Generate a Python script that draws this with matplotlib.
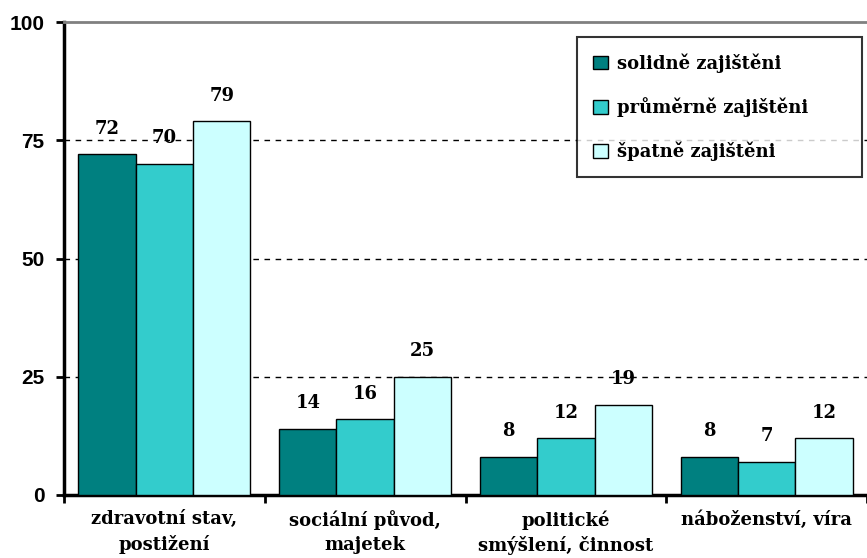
import matplotlib
matplotlib.use("Agg")
import matplotlib.pyplot as plt
import numpy as np

categories = ["zdravotní stav,\npostižení", "sociální původ,\nmajetek", "politické\nsmýšlení, činnost", "náboženství, víra"]
series_names = ["solidně zajištěni", "průměrně zajištěni", "špatně zajištěni"]
solidne = [72, 14, 8, 8]
prumerne = [70, 16, 12, 7]
spatne = [79, 25, 19, 12]
colors = ["#008080", "#33CCCC", "#CCFFFF"]
yticks = [0, 25, 50, 75, 100]

fig = plt.figure(figsize=(8.67, 5.58), dpi=100)
ax = fig.add_axes([64/867, 63/558, (867-64)/867, (495-22)/558])

x = np.arange(len(categories))
spacing = 204.0
w = 58.3/spacing
series = [solidne, prumerne, spatne]
for i, (vals, c, name) in enumerate(zip(series, colors, series_names)):
    pos = x + (i - 1) * w
    bars = ax.bar(pos, vals, width=w, color=c, edgecolor="black", linewidth=1, label=name, zorder=3)
    for b, v in zip(bars, vals):
        ax.annotate(str(v), (b.get_x() + b.get_width()/2, v), xytext=(0, 12), textcoords="offset points",
                    ha="center", va="bottom", fontsize=13, fontweight="bold", family="DejaVu Serif")

ax.set_xlim(-0.5, -0.5 + (867-64)/spacing)
ax.set_ylim(0, 100)
ax.set_yticks(yticks)
ax.set_yticklabels([str(t) for t in yticks], fontsize=15, fontweight="bold", family="Liberation Sans")
for y in [25, 50, 75]:
    ax.axhline(y, color="black", linestyle=(0, (4, 4)), linewidth=1, zorder=1)

ax.set_xticks(np.arange(-0.5, len(categories)))
ax.set_xticklabels([])
ax.tick_params(axis="x", direction="out", length=6, width=2)
ax.tick_params(axis="y", direction="out", length=6, width=2, pad=8)
for xi, cat in zip(x, categories):
    ax.text(xi, -3.2, cat, ha="center", va="top", fontsize=13, fontweight="bold",
            family="DejaVu Serif", linespacing=1.45, transform=ax.transData)

ax.spines["left"].set_linewidth(2.5)
ax.spines["bottom"].set_linewidth(2.5)
ax.spines["top"].set_color("#808080")
ax.spines["top"].set_linewidth(2)
ax.spines["right"].set_visible(False)

ax_w = 867 - 64
ax_h = 495 - 22
x0 = (577 - 64) / ax_w
x1 = (862 - 64) / ax_w
ytop = (495 - 37) / ax_h
leg = ax.legend(loc="upper left", bbox_to_anchor=(x0, ytop - 0.5, x1 - x0, 0.5), mode="expand",
                prop={"family": "DejaVu Serif", "weight": "bold", "size": 13},
                frameon=True, fancybox=False, edgecolor="black", handlelength=0.8, handleheight=0.8,
                labelspacing=1.35, borderpad=0.9, handletextpad=0.5, borderaxespad=0)
leg.get_frame().set_linewidth(1.5)
leg.set_zorder(5)
for h in leg.legend_handles:
    h.set_edgecolor("black")

fig.savefig("out.png", dpi=100)
